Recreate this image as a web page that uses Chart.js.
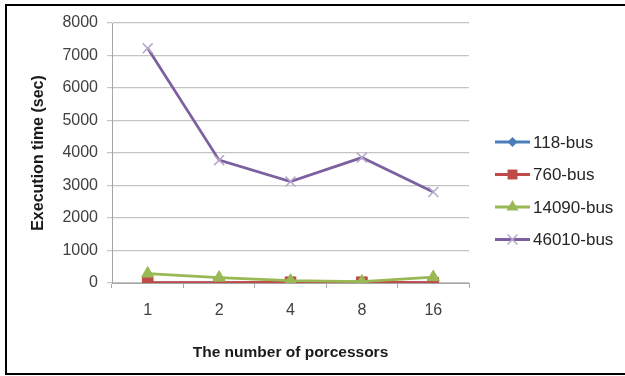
<!DOCTYPE html>
<html>
<head>
<meta charset="utf-8">
<script src="https://cdn.jsdelivr.net/npm/chart.js@4/dist/chart.umd.min.js"></script>
<style>
  html, body { margin: 0; padding: 0; background: #fff; }
  #wrap { position: relative; width: 625px; height: 376px; overflow: hidden; }
  #frame { position: absolute; left: 5px; top: 4px; width: 640px; height: 367px; border: 2px solid #000; pointer-events: none; }
  canvas { position: absolute; left: 0; top: 0; }
</style>
</head>
<body>
<div id="wrap">
  <canvas id="c" width="625" height="376"></canvas>
  <div id="frame"></div>
</div>
<script>
// Processor counts on the x axis
const processors = ['1', '2', '4', '8', '16'];

// Execution time (sec) per test system
const bus118 = [2, 2, 2, 2, 2];
const bus760 = [10, 10, 25, 25, 10];
const bus14090 = [290, 165, 70, 45, 180];
const bus46010 = [7220, 3780, 3120, 3860, 2800];

const seriesNames = ['118-bus', '760-bus', '14090-bus', '46010-bus'];
const yTicks = [0, 1000, 2000, 3000, 4000, 5000, 6000, 7000, 8000];

const FONT = "'Liberation Sans', Arial, sans-serif";

const styles = [
  { line: '#4a7ebb', fill: '#4a7ebb', point: 'rectRot', r: 5 },
  { line: '#be4b48', fill: '#be4b48', point: 'rect', r: 7.5 },
  { line: '#98b954', fill: '#98b954', point: 'triangle', r: 7 },
  { line: '#7d60a0', fill: '#b6a6cc', point: 'crossRot', r: 7 }
];
const values = [bus118, bus760, bus14090, bus46010];

const datasets = values.map((v, i) => ({
  label: seriesNames[i],
  data: v,
  borderColor: styles[i].line,
  backgroundColor: styles[i].fill,
  pointBorderColor: styles[i].fill,
  pointBackgroundColor: styles[i].fill,
  pointStyle: styles[i].point,
  pointRadius: styles[i].r,
  pointBorderWidth: styles[i].point === 'crossRot' ? 1.5 : 1,
  borderWidth: 2.8,
  tension: 0,
  order: 4 - i
}));

function drawMarker(ctx, style, r, x, y) {
  ctx.beginPath();
  if (style === 'rect') {
    const h = Math.SQRT1_2 * r;
    ctx.rect(x - h, y - h, 2 * h, 2 * h);
    ctx.fill();
  } else if (style === 'rectRot') {
    ctx.moveTo(x, y - r); ctx.lineTo(x + r, y); ctx.lineTo(x, y + r); ctx.lineTo(x - r, y);
    ctx.closePath(); ctx.fill();
  } else if (style === 'triangle') {
    ctx.moveTo(x, y - r);
    ctx.lineTo(x + r * 0.866, y + r * 0.5);
    ctx.lineTo(x - r * 0.866, y + r * 0.5);
    ctx.closePath(); ctx.fill();
  } else if (style === 'crossRot') {
    const d = r * Math.SQRT1_2;
    ctx.moveTo(x - d, y - d); ctx.lineTo(x + d, y + d);
    ctx.moveTo(x + d, y - d); ctx.lineTo(x - d, y + d);
    ctx.stroke();
  }
}

// Legend on the right: line sample with marker, then the series name
const sideLegend = {
  id: 'sideLegend',
  afterDraw(chart) {
    const ctx = chart.ctx;
    ctx.save();
    seriesNames.forEach((name, i) => {
      const y = 142 + i * 32.5;
      const s = styles[i];
      ctx.strokeStyle = s.line;
      ctx.lineWidth = 2.8;
      ctx.beginPath();
      ctx.moveTo(495, y);
      ctx.lineTo(530, y);
      ctx.stroke();
      ctx.fillStyle = s.fill;
      ctx.strokeStyle = s.fill;
      ctx.lineWidth = s.point === 'crossRot' ? 1.5 : 1;
      drawMarker(ctx, s.point, s.point === 'rect' ? 7 : s.r, 512.5, y);
      ctx.fillStyle = '#262626';
      ctx.font = '17px ' + FONT;
      ctx.textAlign = 'left';
      ctx.textBaseline = 'middle';
      ctx.fillText(name, 533, y + 1);
    });
    ctx.restore();
  }
};

new Chart(document.getElementById('c'), {
  type: 'line',
  data: { labels: processors, datasets },
  options: {
    responsive: false,
    animation: false,
    events: [],
    layout: { padding: { left: 0, top: 23, right: 156, bottom: 0 } },
    plugins: { legend: { display: false }, tooltip: { enabled: false } },
    scales: {
      x: {
        offset: true,
        grid: { offset: true, drawOnChartArea: false, drawTicks: true, tickLength: 5, color: '#a6a6a6' },
        border: { color: '#a6a6a6', width: 1 },
        ticks: { color: '#404040', font: { family: FONT, size: 16 }, padding: 13, maxRotation: 0 },
        title: { display: true, text: 'The number of porcessors', color: '#1a1a1a',
                 font: { family: FONT, size: 15.5, weight: 'bold' }, padding: { top: 0, bottom: 14 } },
        afterFit(scale) { scale.height = 93; }
      },
      y: {
        min: 0, max: 8000,
        afterBuildTicks(scale) { scale.ticks = yTicks.map(v => ({ value: v })); },
        grid: { color: '#c4c4c4', tickLength: 5, lineWidth: 1.2 },
        border: { color: '#a6a6a6', width: 1 },
        ticks: { color: '#404040', font: { family: FONT, size: 16 }, padding: 9,
                 callback: v => String(v) },
        title: { display: true, text: 'Execution time (sec)', color: '#1a1a1a',
                 font: { family: FONT, size: 16, weight: 'bold' }, padding: { top: 29, bottom: 0 } },
        afterFit(scale) { scale.width = 112; }
      }
    }
  },
  plugins: [sideLegend]
});
</script>
</body>
</html>
